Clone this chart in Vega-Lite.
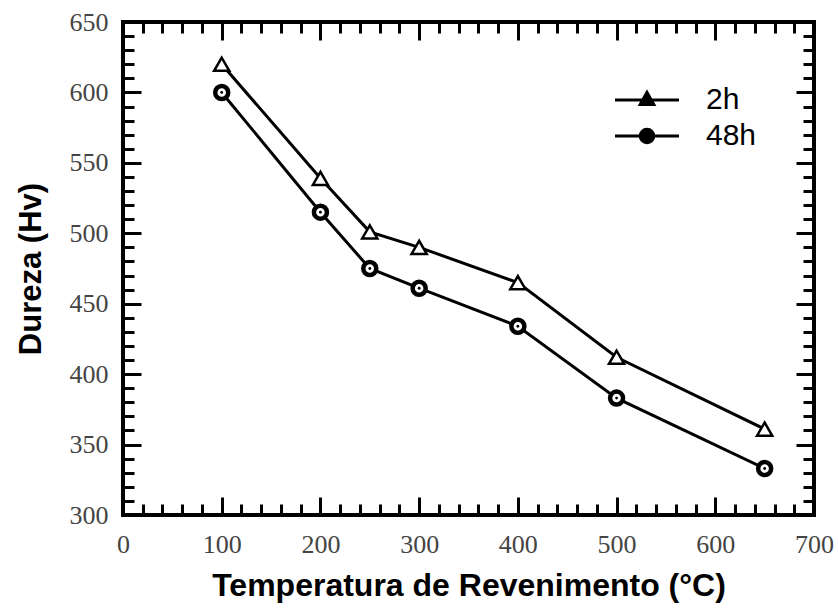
{
  "$schema": "https://vega.github.io/schema/vega-lite/v6.json",
  "width": 691,
  "height": 493,
  "autosize": {"type": "none"},
  "padding": {"left": 123, "top": 22, "right": 24, "bottom": 93},
  "background": "white",
  "config": {
    "view": {"stroke": "black", "strokeWidth": 4},
    "axis": {"domain": false, "grid": false, "tickColor": "black", "tickWidth": 3}
  },
  "data": {
    "values": [
      {"T": 100, "H": 620, "s": "2h"},
      {"T": 200, "H": 539, "s": "2h"},
      {"T": 250, "H": 501, "s": "2h"},
      {"T": 300, "H": 490, "s": "2h"},
      {"T": 400, "H": 465, "s": "2h"},
      {"T": 500, "H": 412, "s": "2h"},
      {"T": 650, "H": 361, "s": "2h"},
      {"T": 100, "H": 600, "s": "48h"},
      {"T": 200, "H": 515, "s": "48h"},
      {"T": 250, "H": 475, "s": "48h"},
      {"T": 300, "H": 461, "s": "48h"},
      {"T": 400, "H": 434, "s": "48h"},
      {"T": 500, "H": 383, "s": "48h"},
      {"T": 650, "H": 333, "s": "48h"}
    ]
  },
  "layer": [
    {
      "mark": {"type": "line", "strokeWidth": 3},
      "encoding": {
        "x": {
          "field": "T", "type": "quantitative",
          "scale": {"domain": [0, 700], "nice": false},
          "axis": {
            "orient": "bottom", "values": [0, 100, 200, 300, 400, 500, 600, 700],
            "tickSize": 18, "offset": -18, "labelFont": "Liberation Serif", "labelFontSize": 26,
            "labelColor": "#444", "labelPadding": 16, "labelFlush": false,
            "title": "Temperatura de Revenimento (°C)", "titleFont": "Liberation Sans",
            "titleFontSize": 32, "titleFontWeight": "bold", "titleColor": "black", "titlePadding": 13
          }
        },
        "y": {
          "field": "H", "type": "quantitative",
          "scale": {"domain": [300, 650], "nice": false},
          "axis": {
            "orient": "left", "values": [300, 350, 400, 450, 500, 550, 600, 650],
            "tickSize": 18, "offset": -18, "labelFont": "Liberation Serif", "labelFontSize": 26,
            "labelColor": "#444", "labelPadding": 15, "labelFlush": false,
            "title": "Dureza (Hv)", "titleFont": "Liberation Sans",
            "titleFontSize": 31, "titleFontWeight": "bold", "titleColor": "black", "titlePadding": 22
          }
        },
        "color": {
          "field": "s", "type": "nominal",
          "scale": {"domain": ["2h", "48h"], "range": ["black", "black"]},
          "legend": {
            "title": null, "orient": "none", "legendX": 509, "legendY": 63,
            "padding": 0, "symbolSize": 256, "symbolStrokeWidth": 3,
            "labelFont": "Liberation Sans", "labelFontSize": 30, "labelColor": "black",
            "labelOffset": 44, "rowPadding": 6,
            "encode": {
              "symbols": {
                "update": {
                  "shape": {"signal": "datum.value == '2h' ? 'M-4,0H4M0,-0.95L0.85,0.55H-0.85Z' : 'M-4,0H4M0.85,0A0.85,0.85,0,1,1,-0.85,0A0.85,0.85,0,1,1,0.85,0Z'"},
                  "fill": {"value": "black"},
                  "stroke": {"value": "black"},
                  "strokeWidth": {"value": 3}
                }
              }
            }
          }
        }
      }
    },
    {
      "transform": [{"filter": "datum.s == '2h'"}],
      "mark": {"type": "point", "shape": "triangle-up", "size": 230, "filled": true, "fill": "white", "stroke": "black", "strokeWidth": 2.5, "opacity": 1},
      "encoding": {
        "x": {
          "field": "T", "type": "quantitative",
          "axis": {"orient": "bottom", "values": [20,40,60,80,120,140,160,180,220,240,260,280,320,340,360,380,420,440,460,480,520,540,560,580,620,640,660,680], "tickSize": 11, "offset": -11, "labels": false, "title": null}
        },
        "y": {
          "field": "H", "type": "quantitative",
          "axis": {"orient": "left", "values": [310,320,330,340,360,370,380,390,410,420,430,440,460,470,480,490,510,520,530,540,560,570,580,590,610,620,630,640], "tickSize": 11, "offset": -11, "labels": false, "title": null}
        }
      }
    },
    {
      "transform": [{"filter": "datum.s == '48h'"}],
      "mark": {"type": "point", "shape": "circle", "size": 170, "filled": true, "fill": "white", "stroke": "black", "strokeWidth": 4.5, "opacity": 1},
      "encoding": {
        "x": {
          "field": "T", "type": "quantitative",
          "axis": {"orient": "top", "values": [0, 100, 200, 300, 400, 500, 600, 700], "tickSize": 18, "offset": -18, "labels": false, "title": null}
        },
        "y": {
          "field": "H", "type": "quantitative",
          "axis": {"orient": "right", "values": [300, 350, 400, 450, 500, 550, 600, 650], "tickSize": 18, "offset": -18, "labels": false, "title": null}
        }
      }
    },
    {
      "transform": [{"filter": "datum.s == '48h'"}],
      "mark": {"type": "point", "shape": "circle", "size": 8, "filled": true, "fill": "black", "opacity": 1},
      "encoding": {
        "x": {
          "field": "T", "type": "quantitative",
          "axis": {"orient": "top", "values": [20,40,60,80,120,140,160,180,220,240,260,280,320,340,360,380,420,440,460,480,520,540,560,580,620,640,660,680], "tickSize": 11, "offset": -11, "labels": false, "title": null}
        },
        "y": {
          "field": "H", "type": "quantitative",
          "axis": {"orient": "right", "values": [310,320,330,340,360,370,380,390,410,420,430,440,460,470,480,490,510,520,530,540,560,570,580,590,610,620,630,640], "tickSize": 11, "offset": -11, "labels": false, "title": null}
        }
      }
    }
  ],
  "resolve": {"axis": {"x": "independent", "y": "independent"}}
}
